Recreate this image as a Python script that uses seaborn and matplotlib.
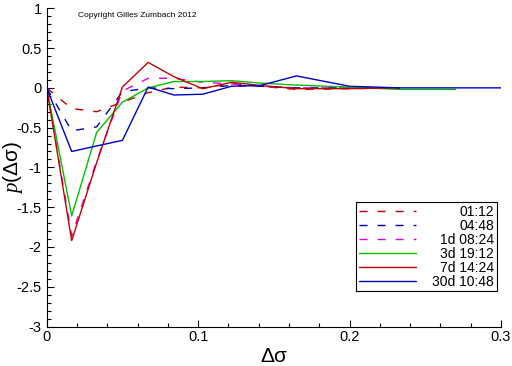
import matplotlib
matplotlib.use('Agg')
import matplotlib.pyplot as plt
from matplotlib.ticker import MultipleLocator, FuncFormatter
import seaborn as sns

## Data
dsigma = [0, 0.0165, 0.033, 0.05, 0.067, 0.084, 0.103, 0.122, 0.141, 0.165, 0.2, 0.233, 0.27, 0.3]

p_0112 = [0, -0.26, -0.30, -0.18, -0.06, 0.01, 0.00, 0.05, 0.02, -0.02, -0.01, 0.00]
p_0448 = [0, -0.54, -0.49, -0.05, 0.00, -0.01, 0.00, 0.03, 0.02, 0.00, 0.00, 0.00]
p_1d = [0, -1.86, -0.92, -0.04, 0.12, 0.12, 0.07, 0.05, 0.02, 0.00, 0.00, 0.00]
p_3d = [0, -1.61, -0.56, -0.18, 0.00, 0.08, 0.08, 0.09, 0.06, 0.035, 0.01, -0.02, -0.02]
p_7d = [0, -1.92, -0.94, 0.01, 0.32, 0.14, -0.01, 0.07, 0.03, -0.01, -0.01, 0.00]
p_30d = [0, -0.80, -0.73, -0.66, 0.01, -0.09, -0.08, 0.02, 0.03, 0.15, 0.02, 0.00, 0.00, 0.00]

series = [p_0112, p_0448, p_1d, p_3d, p_7d, p_30d]
labels = ['01:12', '04:48', '1d 08:24', '3d 19:12', '7d 14:24', '30d 10:48']
colors = ['#c00000', '#0000c0', '#e000e0', '#00c000', '#c00000', '#0000c0']
dashed = [True, True, True, False, False, False]

## Style
sns.set_style('ticks')
plt.rcParams['font.family'] = ['Liberation Sans', 'DejaVu Sans']
plt.rcParams['mathtext.fontset'] = 'custom'
plt.rcParams['mathtext.rm'] = 'Liberation Serif'
plt.rcParams['mathtext.it'] = 'Liberation Serif:italic'
plt.rcParams['axes.unicode_minus'] = False
plt.rcParams['text.color'] = 'black'
plt.rcParams['axes.labelcolor'] = 'black'
plt.rcParams['xtick.color'] = 'black'
plt.rcParams['ytick.color'] = 'black'

fig = plt.figure(figsize=(5.12, 3.66), dpi=100)
ax = fig.add_axes([0.0912, 0.1079, 0.8873, 0.8694])

for vals, lab, col, dash in zip(series, labels, colors, dashed):
    ls = (0, (5.8, 7.2)) if dash else '-'
    sns.lineplot(x=dsigma[:len(vals)], y=vals, ax=ax, color=col, lw=1.0,
                 linestyle=ls, label=lab, sort=False, estimator=None)

ax.set_xlim(0, 0.3)
ax.set_ylim(-3, 1)
ax.xaxis.set_major_locator(MultipleLocator(0.1))
ax.xaxis.set_minor_locator(MultipleLocator(0.02))
ax.yaxis.set_major_locator(MultipleLocator(0.5))
ax.yaxis.set_minor_locator(MultipleLocator(0.1))
fmt = FuncFormatter(lambda v, pos: '%g' % (round(v, 6) + 0.0))
ax.xaxis.set_major_formatter(fmt)
ax.yaxis.set_major_formatter(fmt)

ax.tick_params(which='major', direction='in', length=5.2, width=0.8, labelsize=10.5)
ax.tick_params(which='minor', direction='in', length=3.2, width=0.8)
ax.tick_params(axis='x', which='major', pad=2.5)
ax.tick_params(axis='y', which='major', pad=3.6)

sns.despine(ax=ax)
for s in ['left', 'bottom']:
    ax.spines[s].set_linewidth(0.8)
    ax.spines[s].set_color('black')

ax.set_xlabel('Δσ', fontsize=15)
ax.set_ylabel('$p$(Δσ)', fontsize=15, va='center')
ax.xaxis.set_label_coords(0.5, -0.064)
ax.yaxis.set_label_coords(-0.075, 0.5)

ax.text(0.068, 0.977, 'Copyright Gilles Zumbach 2012', fontsize=6,
        va='center', ha='left', transform=ax.transAxes)

leg = ax.legend(loc='upper right', bbox_to_anchor=(0.9905, 0.392), borderaxespad=0,
                frameon=True, fancybox=False, edgecolor='black', framealpha=1,
                fontsize=10, handlelength=4.1, handletextpad=1.15, borderpad=0.2,
                labelspacing=0.0)
leg.get_frame().set_linewidth(0.8)

# right-align the legend labels
fig.canvas.draw()
r = fig.canvas.get_renderer()
widths = [t.get_window_extent(r).width for t in leg.get_texts()]
wmax = max(widths)
for t, w in zip(leg.get_texts(), widths):
    t.set_position((wmax - w, 0))

fig.savefig('out.png', dpi=100)
